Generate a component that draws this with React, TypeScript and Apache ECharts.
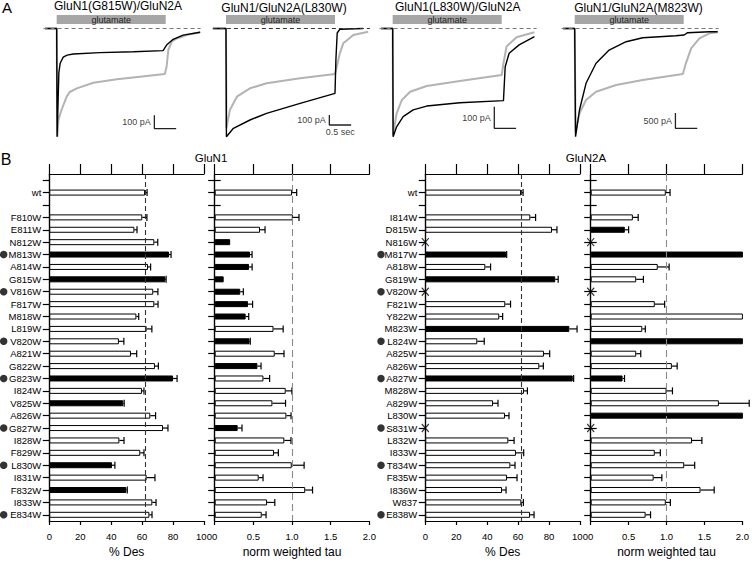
import React, { useEffect, useRef } from 'react';
import * as echarts from 'echarts';

const FONT = '"Liberation Sans", Arial, Helvetica, sans-serif';

// ---------------- Panel A: whole-cell currents (time in s, current in pA) ----------------
const traceTitles = ['GluN1(G815W)/GluN2A', 'GluN1/GluN2A(L830W)', 'GluN1(L830W)/GluN2A', 'GluN1/GluN2A(M823W)'];
const glutamateWindow = [0, 2.5];

// black = mutant receptor, gray = wild type
const mutantTrace1 = [[-0.27, 0], [0, 0], [0.01, -812], [0.05, -330], [0.08, -260], [0.15, -214], [0.24, -199], [0.38, -191], [0.99, -181], [1.76, -174], [2.44, -166], [2.52, -124], [2.67, -81], [2.9, -49], [3.29, -28]];
const wtTrace1 = [[-0.27, 0], [0, 0], [0.015, -812], [0.04, -686], [0.11, -611], [0.23, -511], [0.3, -476], [0.46, -449], [0.84, -407], [1.38, -381], [1.91, -361], [2.48, -341], [2.52, -287], [2.56, -161], [2.64, -99], [2.75, -75], [2.98, -49], [3.29, -28]];
const mutantTrace2 = [[-0.3, 0], [0, 0], [0.01, -1082], [0.17, -998], [0.55, -915], [0.93, -848], [1.7, -748], [2.5, -648], [2.52, -315], [2.55, -45], [2.61, -8], [3.14, 0]];
const wtTrace2 = [[-0.3, 0], [0, 0], [0.01, -998], [0.09, -815], [0.25, -682], [0.55, -598], [0.93, -548], [1.7, -498], [2.5, -455], [2.54, -382], [2.61, -248], [2.69, -148], [2.92, -65], [3.26, -32]];
const mutantTrace3 = [[-0.27, 0], [0, 0], [0.01, -501], [0.09, -455], [0.24, -408], [0.47, -377], [0.78, -359], [1.54, -344], [2.54, -334], [2.58, -177], [2.67, -115], [2.9, -76], [3.25, -38]];
const wtTrace3 = [[-0.27, 0], [0, 0], [0.01, -493], [0.09, -393], [0.21, -331], [0.4, -293], [0.78, -266], [1.54, -243], [2.5, -215], [2.54, -161], [2.61, -84], [2.84, -41], [3.25, -18]];
const mutantTrace4 = [[-0.27, 0], [0, 0], [0.02, -3538], [0.11, -2665], [0.26, -1792], [0.49, -1138], [0.79, -703], [1.18, -432], [1.56, -301], [2.32, -236], [2.51, -213], [2.59, -137], [3.09, -105], [3.28, -105]];
const wtTrace4 = [[-0.27, 0], [0, 0], [0.02, -3375], [0.11, -2773], [0.26, -2338], [0.49, -2067], [0.95, -1848], [1.56, -1684], [2.48, -1488], [2.55, -1138], [2.67, -647], [2.86, -320], [3.09, -157], [3.28, -124]];

const mutantTraces = [mutantTrace1, mutantTrace2, mutantTrace3, mutantTrace4];
const wtTraces = [wtTrace1, wtTrace2, wtTrace3, wtTrace4];
const scaleBarOrigins = [[2.24, -750], [2.37, -965], [2.33, -462], [2.31, -3263]];
const scaleBarPA = [100, 100, 100, 500];
const scaleBarSec = 0.5;

// ---------------- Panel B: bar data ----------------
const n1Cats = ['', 'wt', '', 'F810W', 'E811W', 'N812W', 'M813W', 'A814W', 'G815W', 'V816W', 'F817W', 'M818W', 'L819W', 'V820W', 'A821W', 'G822W', 'G823W', 'I824W', 'V825W', 'A826W', 'G827W', 'I828W', 'F829W', 'L830W', 'I831W', 'F832W', 'I833W', 'E834W'];
const n1Des = [null, 61.9, null, 60.1, 55.0, 67.9, 77.4, 63.8, 75.0, 67.2, 67.9, 56.3, 62.9, 45.0, 52.8, 68.3, 80.0, 59.9, 47.8, 65.3, 73.5, 45.3, 58.8, 40.5, 62.9, 49.8, 66.6, 64.7];
const n1DesErr = [null, 1.3, null, 3.0, 1.7, 2.2, 1.3, 1.7, 0.5, 3.0, 2.4, 1.5, 3.4, 3.2, 3.7, 2.2, 2.6, 1.3, 0.6, 3.4, 3.2, 3.0, 2.4, 1.9, 5.4, 0.6, 2.4, 1.7];
const n1DesBlack = ['M813W', 'G815W', 'G823W', 'V825W', 'L830W', 'F832W'];
const n1Tau = [null, 1.0, null, 1.01, 0.586, 0.2, 0.457, 0.444, 0.116, 0.33, 0.43, 0.4, 0.76, 0.45, 0.776, 0.552, 0.63, 0.918, 0.746, 0.927, 0.297, 0.9, 0.767, 0.996, 0.569, 1.17, 0.677, 0.608];
const n1TauErr = [null, 0.06, null, 0.08, 0.065, 0, 0.026, 0.04, 0, 0.04, 0.06, 0.04, 0.125, 0.01, 0.12, 0.047, 0.08, 0.08, 0.17, 0.06, 0.056, 0.086, 0.056, 0.16, 0.056, 0.095, 0.1, 0.056];
const n1TauBlack = ['N812W', 'M813W', 'A814W', 'G815W', 'V816W', 'F817W', 'M818W', 'V820W', 'G822W', 'G827W'];
const n1Dots = ['M813W', 'V816W', 'V820W', 'G823W', 'G827W', 'L830W', 'E834W'];

const n2Cats = ['', 'wt', '', 'I814W', 'D815W', 'N816W', 'M817W', 'A818W', 'G819W', 'V820W', 'F821W', 'Y822W', 'M823W', 'L824W', 'A825W', 'A826W', 'A827W', 'M828W', 'A829W', 'L830W', 'S831W', 'L832W', 'I833W', 'T834W', 'F835W', 'I836W', 'W837', 'E838W'];
const n2Des = [null, 61.9, null, 67.9, 81.9, null, 52.2, 38.8, 84.0, null, 51.7, 47.8, 93.1, 33.6, 76.7, 73.7, 95.3, 63.8, 43.8, 51.5, null, 53.7, 58.6, 55.0, 52.8, 49.6, 62.1, 67.7];
const n2DesErr = [null, 1.3, null, 3.4, 3.2, null, 0.4, 3.4, 1.9, null, 3.4, 2.2, 5.0, 4.5, 3.7, 2.6, 0.6, 2.2, 3.2, 2.6, null, 3.7, 5.0, 3.0, 6.5, 2.6, 1.3, 2.6];
const n2DesBlack = ['M817W', 'G819W', 'M823W', 'A827W'];
const n2Tau = [null, 0.99, null, 0.556, 0.45, null, 2.5, 0.884, 0.6, null, 0.845, 2.01, 0.68, 2.5, 0.6, 1.07, 0.42, 1.0, 1.69, 2.5, null, 1.336, 0.845, 1.233, 0.83, 1.448, 0.99, 0.724];
const n2TauErr = [null, 0.056, null, 0.07, 0.05, null, 0, 0.15, 0.095, null, 0.13, 0, 0.04, 0, 0.06, 0.07, 0.026, 0.078, 0.4, 0, null, 0.13, 0.073, 0.138, 0.108, 0.18, 0.06, 0.065];
const n2TauBlack = ['D815W', 'M817W', 'L824W', 'A827W', 'L830W'];
const n2Dots = ['M817W', 'V820W', 'L824W', 'A827W', 'S831W', 'T834W', 'E838W'];
const n2NotFunctional = ['N816W', 'V820W', 'S831W'];

const desTicks = { max: 100, interval: 20 };
const tauTicks = { max: 2, interval: 0.5 };

function uniqueCats(cats: string[]) {
  return cats.map((c, i) => (c === '' ? ' '.repeat(i + 1) : c));
}

function buildOption() {
  const grids: any[] = [];
  const xAxes: any[] = [];
  const yAxes: any[] = [];
  const series: any[] = [];
  const graphics: any[] = [];

  // ---- Panel A ----
  const aLeft = [43.6, 212.9, 379.6, 561.6];
  const yRanges = [[-836, 124], [-1115, 165], [-516, 76], [-3646, 540]];
  const aTop = 12, aHeight = 128;
  const titleX = [118, 284, 457.7, 638.5];
  const titleY = [6, 7.5, 7, 7.5];
  for (let i = 0; i < 4; i++) {
    const g = grids.length;
    grids.push({ left: aLeft[i], top: aTop, width: 157, height: aHeight });
    const xi = xAxes.length, yi = yAxes.length;
    xAxes.push({ type: 'value', gridIndex: g, min: -0.3, max: 3.3, show: false });
    const [mn, mx] = yRanges[i];
    yAxes.push({ type: 'value', gridIndex: g, min: mn, max: mx, show: false });
    const pxToVal = (px: number) => mx - ((px - aTop) / aHeight) * (mx - mn);
    series.push({
      type: 'line', xAxisIndex: xi, yAxisIndex: yi, data: wtTraces[i], showSymbol: false, silent: true, z: 2,
      lineStyle: { color: '#b3b3b3', width: 2 },
      markArea: {
        silent: true,
        itemStyle: { color: '#a6a6a6', opacity: 1 },
        label: { show: true, position: 'inside', color: '#222', fontSize: 9, fontFamily: FONT, formatter: 'glutamate' },
        data: [[{ xAxis: glutamateWindow[0], yAxis: pxToVal(15) }, { xAxis: glutamateWindow[1], yAxis: pxToVal(24) }]],
      },
    });
    series.push({
      type: 'line', xAxisIndex: xi, yAxisIndex: yi, data: mutantTraces[i], showSymbol: false, silent: true, z: 3,
      lineStyle: { color: '#000', width: 1.4 },
      markLine: {
        silent: true, symbol: 'none', label: { show: false },
        lineStyle: { type: [4, 3], color: i === 1 ? '#333' : '#777', width: 1 },
        data: [{ yAxis: 0 }],
      },
    });
    const [t0, y0] = scaleBarOrigins[i];
    const pa = scaleBarPA[i];
    series.push({
      type: 'line', xAxisIndex: xi, yAxisIndex: yi, showSymbol: false, silent: true, z: 3,
      lineStyle: { color: '#222', width: 1.3 },
      data: [[t0, y0 + pa], [t0, y0], [t0 + scaleBarSec, y0]],
    });
    const labelData: any[] = [
      { value: [t0, y0 + pa / 2], label: { show: true, position: 'left', distance: 3, formatter: `${pa} pA` } },
    ];
    if (i === 1) {
      labelData.push({ value: [t0 + scaleBarSec / 2, y0], label: { show: true, position: 'bottom', distance: 2, formatter: `${scaleBarSec} sec` } });
    }
    series.push({
      type: 'scatter', xAxisIndex: xi, yAxisIndex: yi, symbolSize: 1, silent: true,
      itemStyle: { color: 'rgba(0,0,0,0)' },
      label: { color: '#000', fontSize: 9, fontFamily: FONT },
      data: labelData,
    });
    graphics.push({
      type: 'text', x: titleX[i], y: titleY[i],
      style: { text: traceTitles[i], font: `12px ${FONT}`, fill: '#000', align: 'center', verticalAlign: 'middle', textAlign: 'center', textVerticalAlign: 'middle' },
    });
  }

  // ---- Panel B ----
  const bTop = 174, bHeight = 355, bWidth = 154.7;
  const charts = [
    { cats: n1Cats, values: n1Des, errs: n1DesErr, black: n1DesBlack, ticks: desTicks, ref: n1Des[1], refColor: '#333', refDash: [5, 3], name: '% Des', left: 49.3, labels: true, rightTicks: false, missing: [] as string[], dots: n1Dots, dotOffset: -45.6 },
    { cats: n1Cats, values: n1Tau, errs: n1TauErr, black: n1TauBlack, ticks: tauTicks, ref: 1, refColor: '#8a8a8a', refDash: [7, 4], name: 'norm weighted tau', left: 214.7, labels: false, rightTicks: true, missing: [] as string[], dots: [] as string[], dotOffset: 0 },
    { cats: n2Cats, values: n2Des, errs: n2DesErr, black: n2DesBlack, ticks: desTicks, ref: n2Des[1], refColor: '#333', refDash: [5, 3], name: '% Des', left: 425.3, labels: true, rightTicks: false, missing: n2NotFunctional, dots: n2Dots, dotOffset: -44.3 },
    { cats: n2Cats, values: n2Tau, errs: n2TauErr, black: n2TauBlack, ticks: tauTicks, ref: 1, refColor: '#8a8a8a', refDash: [7, 4], name: 'norm weighted tau', left: 590.7, labels: false, rightTicks: true, missing: n2NotFunctional, dots: [] as string[], dotOffset: 0 },
  ];
  const axisLine = { show: true, lineStyle: { color: '#000', width: 1.2 } };
  const tickStyle = { color: '#000', width: 1.2 };

  charts.forEach((c) => {
    const g = grids.length;
    grids.push({ left: c.left, top: bTop, width: bWidth, height: bHeight });
    const cats = uniqueCats(c.cats);
    const fmt = (v: number) => (c.ticks.max === 2 ? (v === 0 ? '0' : v.toFixed(1)) : String(v));
    const xb = xAxes.length;
    xAxes.push({
      type: 'value', gridIndex: g, min: 0, max: c.ticks.max, interval: c.ticks.interval, position: 'bottom',
      axisLine, axisTick: { show: true, length: 4, lineStyle: tickStyle },
      axisLabel: { show: true, fontSize: 9.5, color: '#000', fontFamily: FONT, margin: 10, formatter: fmt },
      splitLine: { show: false },
      name: c.name, nameLocation: 'middle', nameGap: 25,
      nameTextStyle: { fontSize: 12, color: '#000', fontFamily: FONT },
    });
    xAxes.push({
      type: 'value', gridIndex: g, min: 0, max: c.ticks.max, interval: c.ticks.interval, position: 'top',
      axisLine, axisTick: { show: true, length: 10, lineStyle: tickStyle },
      axisLabel: { show: false }, splitLine: { show: false },
    });
    const yl = yAxes.length;
    yAxes.push({
      type: 'category', gridIndex: g, data: cats, inverse: true, position: 'left',
      axisLine, axisTick: { show: true, alignWithLabel: true, length: 6.5, interval: 0, lineStyle: tickStyle },
      axisLabel: { show: c.labels, interval: 0, fontSize: 9.5, color: '#000', fontFamily: FONT, margin: 8 },
      splitLine: { show: false },
    });
    yAxes.push({
      type: 'category', gridIndex: g, data: cats, inverse: true, position: 'right',
      axisLine, axisTick: { show: c.rightTicks, alignWithLabel: true, length: 6, interval: 0, lineStyle: tickStyle },
      axisLabel: { show: false }, splitLine: { show: false },
    });
    series.push({
      type: 'bar', xAxisIndex: xb, yAxisIndex: yl, barWidth: 6, silent: true, z: 3, clip: true,
      itemStyle: { borderColor: '#000', borderWidth: 1 },
      data: c.values.map((v, i) => (v == null ? '-' : { value: v, itemStyle: { color: c.black.includes(c.cats[i]) ? '#000' : '#fff' } })),
      markLine: {
        silent: true, symbol: 'none', label: { show: false },
        lineStyle: { type: c.refDash, color: c.refColor, width: 1.1 },
        data: [{ xAxis: c.ref }],
      },
    });
    const errData: any[] = [];
    c.values.forEach((v, i) => {
      const e = c.errs[i];
      if (v != null && e != null && e > 0) errData.push([v, i, e]);
    });
    series.push({
      type: 'custom', xAxisIndex: xb, yAxisIndex: yl, silent: true, z: 4, clip: false,
      encode: { x: 0, y: 1 },
      data: errData,
      renderItem: (params: any, api: any) => {
        const v = api.value(0), idx = api.value(1), e = api.value(2);
        const s = api.coord([v, idx]);
        const t = api.coord([v + e, idx]);
        const st = { stroke: '#000', lineWidth: 1.2 };
        return {
          type: 'group',
          children: [
            { type: 'line', shape: { x1: s[0], y1: s[1], x2: t[0], y2: t[1] }, style: st },
            { type: 'line', shape: { x1: t[0], y1: t[1] - 3.5, x2: t[0], y2: t[1] + 3.5 }, style: st },
          ],
        };
      },
    });
    if (c.missing.length) {
      series.push({
        type: 'scatter', xAxisIndex: xb, yAxisIndex: yl, silent: true, z: 5, clip: false,
        symbol: 'path://M0,0L10,12M10,0L0,12', symbolSize: [7, 8],
        itemStyle: { color: 'none', borderColor: '#000', borderWidth: 1.2 },
        data: c.missing.map((m) => [0, c.cats.indexOf(m)]),
      });
    }
    if (c.dots.length) {
      // marker dots in front of the category labels
      series.push({
        type: 'scatter', xAxisIndex: xb, yAxisIndex: yl, silent: true, z: 5, clip: false,
        symbol: 'circle', symbolSize: 7.5, symbolOffset: [c.dotOffset, 0],
        itemStyle: { color: '#000' },
        data: c.dots.map((m) => [0, c.cats.indexOf(m)]),
      });
    }
  });

  const txt = (text: string, x: number, y: number, size: number) => ({
    type: 'text', x, y,
    style: { text, font: `${size}px ${FONT}`, fill: '#000', align: 'center', verticalAlign: 'middle', textAlign: 'center', textVerticalAlign: 'middle' },
  });
  graphics.push(txt('A', 7, 7.5, 15));
  graphics.push(txt('B', 6, 159, 16));
  graphics.push(txt('GluN1', 211, 157.5, 11.5));
  graphics.push(txt('GluN2A', 586, 157.5, 11.5));

  return {
    animation: false,
    backgroundColor: '#fff',
    textStyle: { fontFamily: FONT },
    grid: grids,
    xAxis: xAxes,
    yAxis: yAxes,
    series,
    graphic: { elements: graphics },
  };
}

export default function App() {
  const ref = useRef<HTMLDivElement>(null);
  useEffect(() => {
    if (!ref.current) return;
    const chart = echarts.init(ref.current, undefined, { renderer: 'svg' });
    chart.setOption(buildOption() as any);
    return () => chart.dispose();
  }, []);
  return (
    <div
      ref={ref}
      style={{ position: 'fixed', left: 0, top: 0, width: 752, height: 563, background: '#fff' }}
    />
  );
}
